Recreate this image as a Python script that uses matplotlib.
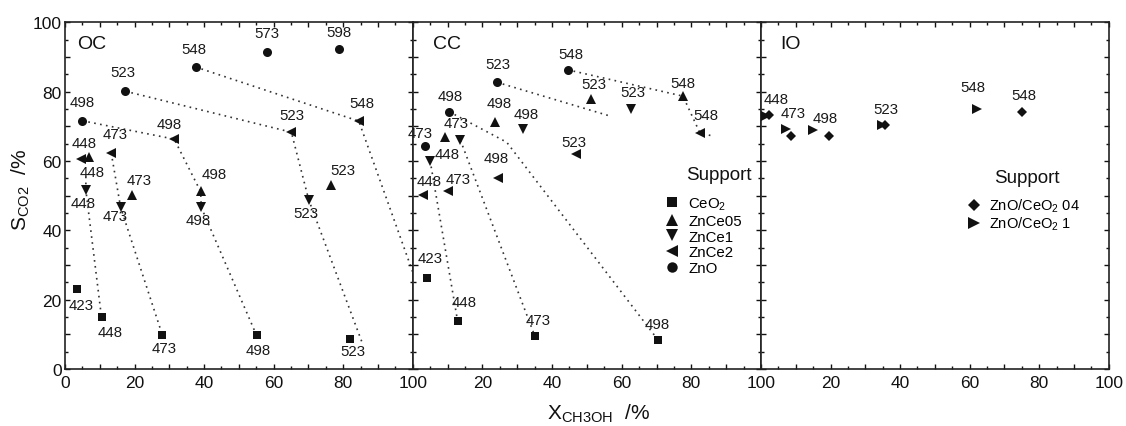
import matplotlib
matplotlib.use('Agg')
import matplotlib.pyplot as plt
from matplotlib.ticker import MultipleLocator, FuncFormatter
from matplotlib.lines import Line2D

plt.rcParams['font.family'] = ['Liberation Sans', 'DejaVu Sans']
plt.rcParams['mathtext.fontset'] = 'custom'
plt.rcParams['mathtext.rm'] = 'Liberation Sans'
plt.rcParams['mathtext.it'] = 'Liberation Sans:italic'
plt.rcParams['mathtext.default'] = 'regular'

# ---------------- data: OC panel ----------------
oc_ceo2_x = [3.4, 10.5, 28.0, 55.1, 82.1]
oc_ceo2_y = [23.0, 14.9, 9.8, 9.7, 8.6]
oc_ceo2_t = [423, 448, 473, 498, 523]
oc_zn05_x = [7.0, 19.4, 39.0, 76.5]
oc_zn05_y = [61.2, 50.2, 51.2, 53.2]
oc_zn05_t = [448, 473, 498, 523]
oc_zn1_x = [6.0, 16.0, 39.2, 70.1]
oc_zn1_y = [51.6, 46.6, 46.6, 48.8]
oc_zn1_t = [448, 473, 498, 523]
oc_zn2_x = [4.5, 13.3, 31.4, 65.1, 84.5]
oc_zn2_y = [60.5, 62.3, 66.3, 68.3, 71.5]
oc_zn2_t = [448, 473, 498, 523, 548]
oc_zno_x = [5.0, 17.4, 37.6, 58.0, 78.9]
oc_zno_y = [71.6, 80.1, 87.1, 91.5, 92.2]
oc_zno_t = [498, 523, 548, 573, 598]

# ---------------- data: CC panel ----------------
cc_ceo2_x = [4.2, 12.9, 35.1, 70.5]
cc_ceo2_y = [26.3, 13.8, 9.4, 8.3]
cc_ceo2_t = [423, 448, 473, 498]
cc_zn05_x = [9.3, 23.7, 51.1, 77.6]
cc_zn05_y = [66.8, 71.3, 77.9, 78.7]
cc_zn05_t = [473, 498, 523, 548]
cc_zn1_x = [5.0, 13.7, 31.7, 62.6]
cc_zn1_y = [60.1, 66.0, 69.3, 75.0]
cc_zn1_t = [448, 473, 498, 523]
cc_zn2_x = [2.9, 10.2, 24.6, 46.8, 82.5]
cc_zn2_y = [50.2, 51.3, 55.0, 62.0, 68.0]
cc_zn2_t = [448, 473, 498, 523, 548]
cc_zno_x = [3.5, 10.5, 24.2, 44.5]
cc_zno_y = [64.4, 74.2, 82.7, 86.3]
cc_zno_t = [473, 498, 523, 548]

# ---------------- data: IO panel ----------------
io_d04_x = [2.4, 8.6, 19.6, 35.8, 75.2]
io_d04_y = [73.3, 67.3, 67.1, 70.4, 74.2]
io_d04_t = [448, 473, 498, 523, 548]
io_t1_x = [1.4, 7.2, 15.0, 34.8, 62.2]
io_t1_y = [72.9, 69.2, 69.0, 70.4, 75.0]
io_t1_t = [448, 473, 498, 523, 548]

# isotherm (dotted) lines: series references (name, T) or extra read-off points
oc_isotherms = [
    [(6.0, 55.5), ('ZnCe1', 448), ('CeO2', 448)],
    [('ZnCe2', 473), ('ZnCe1', 473), ('CeO2', 473)],
    [('ZnO', 498), ('ZnCe2', 498), ('ZnCe05', 498), ('ZnCe1', 498), ('CeO2', 498)],
    [('ZnO', 523), ('ZnCe2', 523), ('ZnCe1', 523), (85.5, 7.5)],
    [('ZnO', 548), ('ZnCe2', 548), (100.0, 28.0)],
]
cc_isotherms = [
    [('ZnCe1', 448), ('CeO2', 448)],
    [('ZnCe1', 473), ('CeO2', 473)],
    [('ZnO', 498), (27.0, 65.4), ('CeO2', 498)],
    [('ZnO', 523), (56.2, 73.1)],
    [('ZnO', 548), ('ZnCe05', 548), ('ZnCe2', 548), (85.8, 67.3)],
]

# label offsets (pixels) per point; None = no label
oc_ceo2_lab = [(4, -16), (9, -15), (2, -13), (2, -15), (2, -12)]
oc_zn05_lab = [(3, -15), (7, 15), (14, 17), (12, 15)]
oc_zn1_lab = [(-3, -13), (-6, -9), (-3, -13), (-3, -13)]
oc_zn2_lab = [(3, 16), (4, 19), (-5, 15), (0, 17), (3, 18)]
oc_zno_lab = [(0, 19), (-3, 19), (-2, 18), (0, 19), (0, 17)]
cc_ceo2_lab = [(3, 20), (6, 19), (3, 16), (-1, 16)]
cc_zn05_lab = [None, (4, 19), (3, 15), (0, 13)]
cc_zn1_lab = [(17, 7), (-4, 17), (3, 15), (2, 17)]
cc_zn2_lab = [(6, 14), (10, 12), (-2, 20), (-2, 12), (6, 18)]
cc_zno_lab = [(-5, 13), (1, 16), (1, 18), (3, 16)]
io_d04_lab = [(7, 16), None, (-4, 18), (0, 16), (1, 17)]
io_t1_lab = [None, (7, 16), None, None, (-4, 22)]

MARKERS = {'CeO2': ('s', 6.0), 'ZnCe05': ('^', 7.5), 'ZnCe1': ('v', 7.5),
           'ZnCe2': ('<', 7.5), 'ZnO': ('o', 6.5),
           'D04': ('D', 5.5), 'T1': ('>', 7.5)}

oc_series = {'CeO2': (oc_ceo2_x, oc_ceo2_y, oc_ceo2_t, oc_ceo2_lab),
             'ZnCe05': (oc_zn05_x, oc_zn05_y, oc_zn05_t, oc_zn05_lab),
             'ZnCe1': (oc_zn1_x, oc_zn1_y, oc_zn1_t, oc_zn1_lab),
             'ZnCe2': (oc_zn2_x, oc_zn2_y, oc_zn2_t, oc_zn2_lab),
             'ZnO': (oc_zno_x, oc_zno_y, oc_zno_t, oc_zno_lab)}
cc_series = {'CeO2': (cc_ceo2_x, cc_ceo2_y, cc_ceo2_t, cc_ceo2_lab),
             'ZnCe05': (cc_zn05_x, cc_zn05_y, cc_zn05_t, cc_zn05_lab),
             'ZnCe1': (cc_zn1_x, cc_zn1_y, cc_zn1_t, cc_zn1_lab),
             'ZnCe2': (cc_zn2_x, cc_zn2_y, cc_zn2_t, cc_zn2_lab),
             'ZnO': (cc_zno_x, cc_zno_y, cc_zno_t, cc_zno_lab)}
io_series = {'D04': (io_d04_x, io_d04_y, io_d04_t, io_d04_lab),
             'T1': (io_t1_x, io_t1_y, io_t1_t, io_t1_lab)}

INK = '#111111'
W, H = 1126, 427
fig = plt.figure(figsize=(W / 100, H / 100), dpi=100)

bottom = 1 - 370 / H
height = 346.7 / H
lefts = [65, 412.7, 761]
widths = [347.7, 348.3, 347.7]
axes = [fig.add_axes([l / W, bottom, w / W, height]) for l, w in zip(lefts, widths)]


def fmt_first(v, pos):
    iv = int(round(v))
    return str(iv) if iv % 20 == 0 else ''


def fmt_other(v, pos):
    iv = int(round(v))
    return str(iv) if (iv % 20 == 0 and iv != 0) else ''


for i, ax in enumerate(axes):
    ax.set_xlim(0, 100)
    ax.set_ylim(0, 100)
    ax.xaxis.set_major_locator(MultipleLocator(10))
    ax.xaxis.set_minor_locator(MultipleLocator(5))
    ax.yaxis.set_major_locator(MultipleLocator(10))
    ax.yaxis.set_minor_locator(MultipleLocator(5))
    ax.xaxis.set_major_formatter(FuncFormatter(fmt_first if i == 0 else fmt_other))
    ax.yaxis.set_major_formatter(FuncFormatter(fmt_first))
    ax.tick_params(which='both', direction='in', top=True, right=True,
                   colors=INK, width=1.0)
    ax.tick_params(which='major', length=3.8, labelsize=12.5, pad=4)
    ax.tick_params(which='minor', length=2.0)
    ax.tick_params(axis='y', pad=2.5)
    if i > 0:
        ax.tick_params(axis='y', labelleft=False)
    for s in ax.spines.values():
        s.set_linewidth(1.2)
        s.set_color('#222222')


def lookup(series, name, t):
    x, y, ts, _ = series[name]
    k = ts.index(t)
    return x[k], y[k]


def draw_panel(ax, series, isotherms):
    for iso in isotherms:
        xs, ys = [], []
        for p in iso:
            if isinstance(p[0], str):
                px, py = lookup(series, p[0], p[1])
            else:
                px, py = p
            xs.append(px)
            ys.append(py)
        ax.plot(xs, ys, linestyle=(0, (1, 2.6)), color='#333333', lw=1.2, zorder=1)
    for name, (x, y, ts, labs) in series.items():
        m, ms = MARKERS[name]
        ax.plot(x, y, linestyle='none', marker=m, markersize=ms, color=INK,
                markeredgewidth=0, zorder=3)
        for xi, yi, ti, lab in zip(x, y, ts, labs):
            if lab is None:
                continue
            ax.annotate(str(ti), (xi, yi), xytext=lab, textcoords='offset pixels',
                        ha='center', va='center', fontsize=10.8, color='#1a1a1a',
                        zorder=4)


draw_panel(axes[0], oc_series, oc_isotherms)
draw_panel(axes[1], cc_series, cc_isotherms)
draw_panel(axes[2], io_series, [])

# panel titles
axes[0].text(12 / 347.7, 0.94, 'OC', transform=axes[0].transAxes, fontsize=14,
             ha='left', va='center', color=INK)
axes[1].text(20 / 348.3, 0.94, 'CC', transform=axes[1].transAxes, fontsize=14,
             ha='left', va='center', color=INK)
axes[2].text(19.7 / 347.7, 0.94, 'IO', transform=axes[2].transAxes, fontsize=14,
             ha='left', va='center', color=INK)

# legends
cc_names = ['CeO2', 'ZnCe05', 'ZnCe1', 'ZnCe2', 'ZnO']
cc_labels = ['CeO$_2$', 'ZnCe05', 'ZnCe1', 'ZnCe2', 'ZnO']
handles = [Line2D([], [], linestyle='none', marker=MARKERS[n][0],
                  markersize=MARKERS[n][1] + 1, color=INK, markeredgewidth=0)
           for n in cc_names]
axes[1].legend(handles, cc_labels, loc='upper left', bbox_to_anchor=(0.722, 0.500),
               frameon=False, fontsize=10.8, handlelength=1.0, handletextpad=0.6,
               labelspacing=0.12, borderpad=0, borderaxespad=0)
axes[1].text(0.880, 0.56, 'Support', transform=axes[1].transAxes, fontsize=13.5,
             ha='center', va='center', color=INK)

io_names = ['D04', 'T1']
io_labels = ['ZnO/CeO$_2$ 04', 'ZnO/CeO$_2$ 1']
handles = [Line2D([], [], linestyle='none', marker=MARKERS[n][0],
                  markersize=MARKERS[n][1] + 1, color=INK, markeredgewidth=0)
           for n in io_names]
axes[2].legend(handles, io_labels, loc='upper left', bbox_to_anchor=(0.593, 0.497),
               frameon=False, fontsize=10.5, handlelength=1.0, handletextpad=0.5,
               labelspacing=0.05, borderpad=0, borderaxespad=0)
axes[2].text(0.764, 0.551, 'Support', transform=axes[2].transAxes, fontsize=13.5,
             ha='center', va='center', color=INK)

# axis labels
fig.text(599 / W, 1 - 414 / H, r'X$_{CH3OH}$  /%', fontsize=15, ha='center',
         va='center', color=INK)
fig.text(21 / W, 1 - 190 / H, r'S$_{CO2}$  /%', fontsize=15, ha='center',
         va='center', rotation=90, color=INK)

fig.savefig('out.png', dpi=100)
